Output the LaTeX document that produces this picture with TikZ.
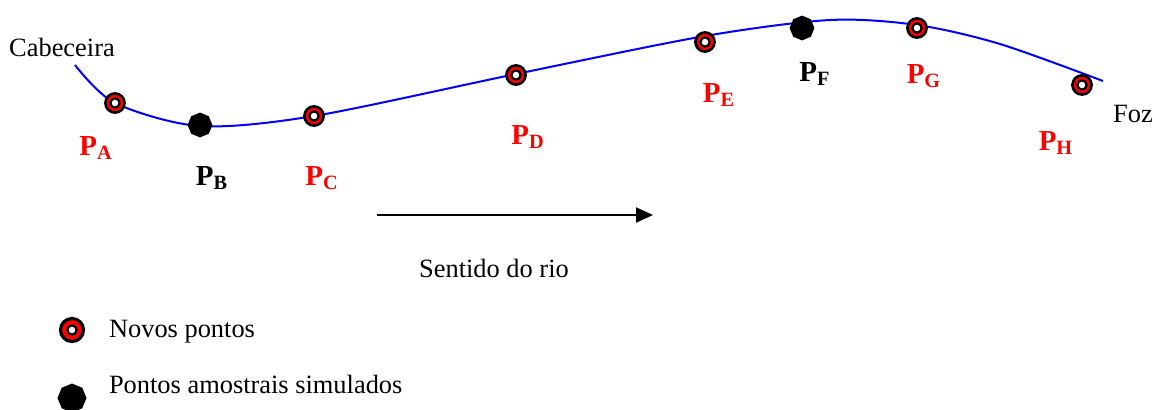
\documentclass[tikz,border=0pt]{standalone}
\usepackage{fontspec}
\setmainfont{Liberation Serif}
\usetikzlibrary{arrows.meta,shapes.geometric}

\begin{document}
\begin{tikzpicture}[x=0.5pt,y=-0.5pt,font=\fontsize{13.2}{16}\selectfont]

\tikzstyle{novo}=[draw=black,fill=red,shape=circle,line width=1.3pt,minimum size=9.6pt,inner sep=0pt,
  path picture={\draw[fill=white,line width=1.1pt] (path picture bounding box.center) circle (2.3pt);}];
\tikzstyle{simulado}=[fill=black,shape=regular polygon,regular polygon sides=8,shape border rotate=22.5,minimum size=12.4pt,inner sep=0pt];
\tikzstyle{rotulo}=[font=\fontsize{14.5}{17}\selectfont\bfseries,inner sep=0pt];

\useasboundingbox (0,0) rectangle (1154,409);

% River course
\draw[blue,line width=1pt] plot[smooth] coordinates {(75,65) (115,103) (200,126) (314,116) (516,74) (705,36) (830,20) (917,25) (1000,44) (1103,81)};

% Points along the river
\node[novo] (pA) at (115,103) {};
\node[simulado] (pB) at (200,125) {};
\node[novo] (pC) at (314,116) {};
\node[novo] (pD) at (516,75) {};
\node[novo] (pE) at (705,42) {};
\node[simulado] (pF) at (802,28) {};
\node[novo] (pG) at (917,28) {};
\node[novo] (pH) at (1082,85) {};

% Labels
\node[rotulo,red] (lA) at (96,148) {P\textsubscript{A}};
\node[rotulo] (lB) at (212,178) {P\textsubscript{B}};
\node[rotulo,red] (lC) at (322,178) {P\textsubscript{C}};
\node[rotulo,red] (lD) at (528,137) {P\textsubscript{D}};
\node[rotulo,red] (lE) at (719,95) {P\textsubscript{E}};
\node[rotulo] (lF) at (815,74) {P\textsubscript{F}};
\node[rotulo,red] (lG) at (924,76) {P\textsubscript{G}};
\node[rotulo,red] (lH) at (1056,143) {P\textsubscript{H}};

\node (cab) at (62,47) {Cabeceira};
\node (foz) at (1133,114) {Foz};

% Flow direction
\coordinate (s0) at (377,215);
\coordinate (s1) at (653,215);
\draw[line width=1pt,-{Triangle[length=8.5pt,width=7.5pt]}] (s0) -- (s1);
\node (sentido) at (494,268) {Sentido do rio};

% Legend
\node[novo,minimum size=11.5pt,line width=1.6pt] (legA) at (72,330) {};
\node[anchor=west] (txtA) at (102,332) {Novos pontos};
\node[simulado,minimum size=14.5pt] (legB) at (72,398) {};
\node[anchor=west] (txtB) at (102,384) {Pontos amostrais simulados};

\end{tikzpicture}
\end{document}
